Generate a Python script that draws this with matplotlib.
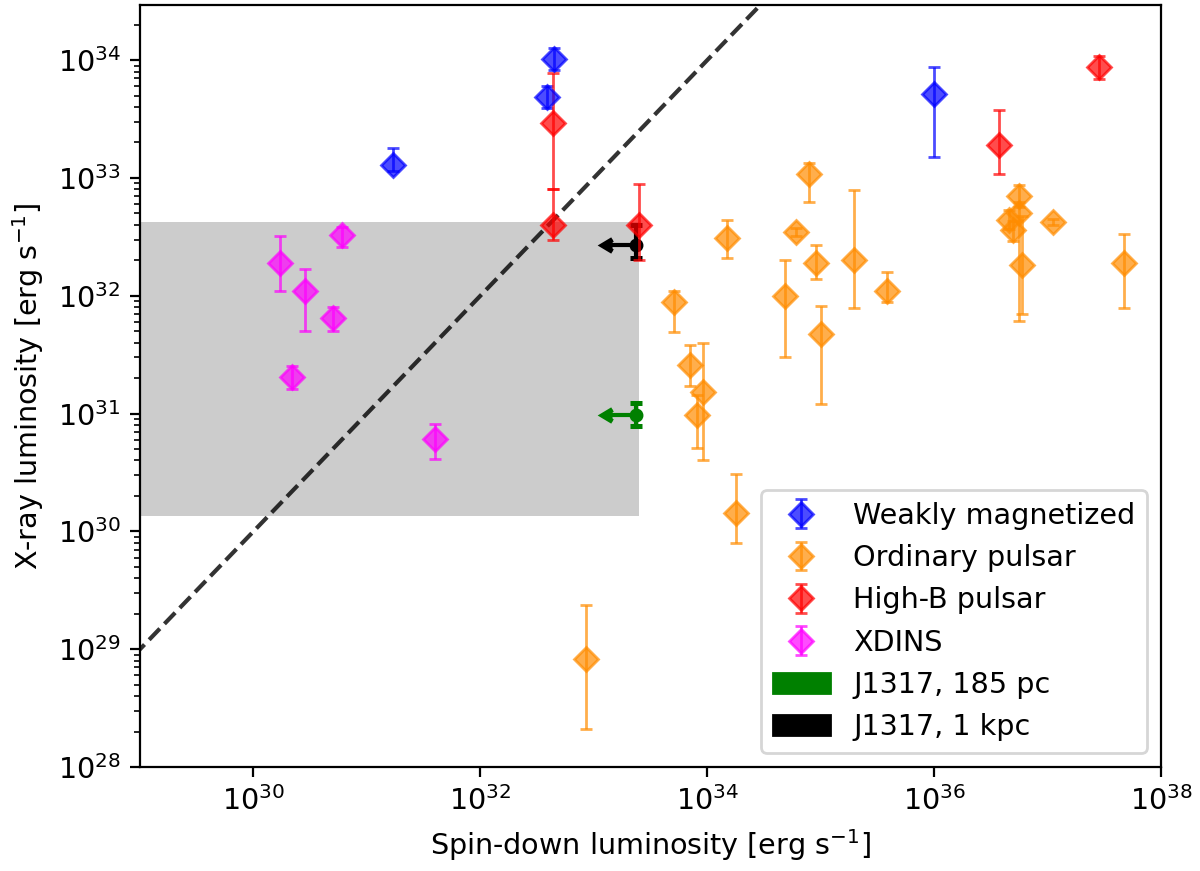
import numpy as np
import matplotlib
matplotlib.use("Agg")
import matplotlib.pyplot as plt
import matplotlib.patches as mpatches
from matplotlib.ticker import NullLocator

# ---------------- data ----------------
# Weakly magnetized
wm_lsd = [1.7e31, 4.46e32, 3.85e32, 1.0e36]
wm_lx = [1.3e33, 1.02e34, 4.9e33, 5.2e33]
wm_lo = [1.15e33, 8.2e33, 3.9e33, 1.5e33]
wm_hi = [1.78e33, 1.26e34, 6.0e33, 8.8e33]

# Ordinary pulsars
op_lsd = [7.94e34, 1.5e34, 6.0e34, 9.1e34, 1.95e35, 4.8e34, 1.01e35, 3.81e35,
          5.1e33, 7.06e33, 9.2e33, 8.07e33, 1.78e34, 8.57e32,
          5.58e36, 5.58e36, 4.6e36, 5.0e36, 5.98e36, 1.12e37, 4.68e37]
op_lx = [1.08e33, 3.07e32, 3.47e32, 1.91e32, 2.0e32, 1.0e32, 4.73e31, 1.1e32,
         8.8e31, 2.6e31, 1.52e31, 9.66e30, 1.43e30, 8.3e28,
         7.0e32, 5.0e32, 4.43e32, 3.6e32, 1.82e32, 4.25e32, 1.91e32]
op_lo = [6.3e32, 2.09e32, 3.2e32, 1.4e32, 7.9e31, 3.0e31, 1.2e31, 8.9e31,
         4.95e31, 1.73e31, 4.06e30, 5.1e30, 8.0e29, 2.09e28,
         5.7e32, 6.07e31, 3.7e32, 2.9e32, 7.0e31, 4.0e32, 7.9e31]
op_hi = [1.34e33, 4.4e32, 3.78e32, 2.68e32, 7.96e32, 2.0e32, 8.2e31, 1.6e32,
         1.09e32, 3.8e31, 4.0e31, 1.43e31, 3.06e30, 2.39e29,
         8.65e32, 6.2e32, 5.3e32, 4.3e32, 4.8e32, 4.5e32, 3.37e32]

# High-B pulsars
hb_lsd = [4.35e32, 4.35e32, 2.5e33, 3.74e36, 2.84e37]
hb_lx = [2.95e33, 4.0e32, 4.0e32, 1.89e33, 8.8e33]
hb_lo = [8.1e32, 3.0e32, 2.0e32, 1.09e33, 6.9e33]
hb_hi = [7.8e33, 8.0e32, 8.9e32, 3.76e33, 1.09e34]

# XDINS
xd_lsd = [1.73e30, 2.85e30, 6.0e30, 5.0e30, 2.2e30, 3.96e31]
xd_lx = [1.9e32, 1.1e32, 3.27e32, 6.5e31, 2.06e31, 6.1e30]
xd_lo = [1.09e32, 5.0e31, 2.6e32, 5.0e31, 1.61e31, 4.1e30]
xd_hi = [3.2e32, 1.69e32, 3.8e32, 8.1e31, 2.54e31, 8.2e30]

# J1317 (upper limits on spin-down luminosity)
j_lsd = 2.35e33
j_lsd_err = 0.9e33
j185_lx, j185_lo, j185_hi = 9.7e30, 7.9e30, 1.23e31
j1k_lx, j1k_lo, j1k_hi = 2.69e32, 2.11e32, 4.0e32

# shaded region
box_lsd = [1e28, 2.5e33]
box_lx_lo = 1.36e30
box_lx_hi = 4.2e32

# equality line
line_lsd = [1e28, 1e38]

# ---------------- plot ----------------
plt.rcParams["font.size"] = 10.3
fig = plt.figure(figsize=(6.0, 4.355), dpi=200)
ax = fig.add_axes([0.1167, 0.1194, 0.9675 - 0.1167, 0.9943 - 0.1194])
ax.set_xscale("log")
ax.set_yscale("log")

ax.fill_between(box_lsd, box_lx_lo, box_lx_hi, color="gray", alpha=0.4, lw=0, zorder=0.5)
ax.plot(line_lsd, line_lsd, ls="--", color="k", alpha=0.8, lw=1.5, zorder=1)


def yerr(v, lo, hi):
    v = np.asarray(v); lo = np.asarray(lo); hi = np.asarray(hi)
    return np.vstack([v - lo, hi - v])


jkw = dict(xerr=[j_lsd_err], xuplims=True, fmt="o", ms=4, capsize=2.3,
           capthick=1.8, zorder=2)
ax.errorbar([j_lsd], [j185_lx], yerr=yerr([j185_lx], [j185_lo], [j185_hi]),
            color="green", **jkw)
ax.errorbar([j_lsd], [j1k_lx], yerr=yerr([j1k_lx], [j1k_lo], [j1k_hi]),
            color="black", **jkw)

kw = dict(fmt="D", alpha=0.7, capsize=2, elinewidth=1, ms=6, zorder=3)
h1 = ax.errorbar(wm_lsd, wm_lx, yerr=yerr(wm_lx, wm_lo, wm_hi), color="blue",
                 label="Weakly magnetized", **kw)
h2 = ax.errorbar(op_lsd, op_lx, yerr=yerr(op_lx, op_lo, op_hi), color="darkorange",
                 label="Ordinary pulsar", **kw)
h3 = ax.errorbar(hb_lsd, hb_lx, yerr=yerr(hb_lx, hb_lo, hb_hi), color="red",
                 label="High-B pulsar", **kw)
h4 = ax.errorbar(xd_lsd, xd_lx, yerr=yerr(xd_lx, xd_lo, xd_hi), color="magenta",
                 label="XDINS", **kw)

p1 = mpatches.Patch(color="green", label="J1317, 185 pc")
p2 = mpatches.Patch(color="black", label="J1317, 1 kpc")

ax.set_xlim(1e29, 1e38)
ax.set_ylim(1e28, 2.94e34)
ax.set_xticks([1e30, 1e32, 1e34, 1e36, 1e38])
ax.xaxis.set_minor_locator(NullLocator())

ax.set_xlabel(r"Spin-down luminosity [erg s$^{-1}$]")
ax.set_ylabel(r"X-ray luminosity [erg s$^{-1}$]")

ax.legend(handles=[h1, h2, h3, h4, p1, p2], loc="lower right")

fig.savefig("out.png", dpi=200)
